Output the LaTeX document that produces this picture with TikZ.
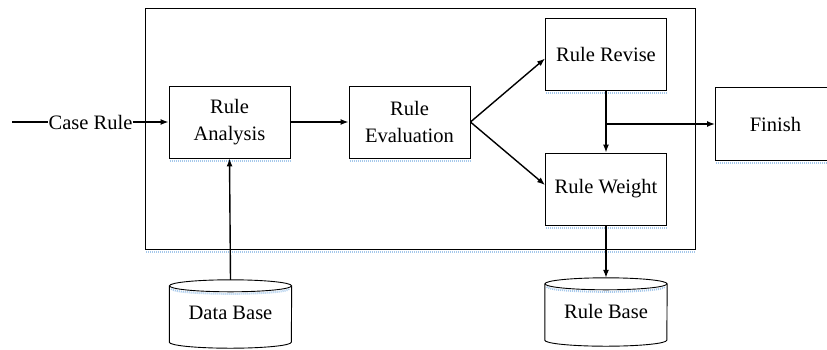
\documentclass[tikz,border=0pt]{standalone}
\usepackage{fontspec}
\setmainfont{Liberation Serif}
\usetikzlibrary{arrows.meta,calc}
\definecolor{hintblue}{RGB}{165,200,235}
\begin{document}
\begin{tikzpicture}[x=1pt,y=-1pt,
  every node/.style={font=\fontsize{20.5}{27}\selectfont, align=center, inner sep=0pt},
  procbox/.style={draw, line width=0.9pt, minimum width=121pt, minimum height=72pt},
  store/.style={minimum width=122pt, minimum height=66pt},
  flow/.style={line width=1.4pt, -{Latex[length=8pt,width=6pt]}},
  plain/.style={line width=1.4pt},
  hint/.style={draw=hintblue, line width=2pt, dash pattern=on 1pt off 1pt}]
\useasboundingbox (0,0) rectangle (827,349);
\clip (0,0) rectangle (827,349);

% outer frame
\draw[line width=0.9pt] (145,8) rectangle (695,249);
\draw[hint] (146,252) -- (695,252);

% process boxes
\node[procbox] (ana) at (229.5,122) {Rule\\Analysis};
\node[procbox] (eva) at (409.5,122) {Rule\\Evaluation};
\node[procbox] (rev) at (606,54.5) {Rule Revise};
\node[procbox] (wei) at (606,189) {Rule Weight};
\node[procbox, minimum width=140pt, minimum height=73pt, anchor=west] (fin) at (715,124) {\hspace*{-10pt}Finish\hspace*{10pt}};

\foreach \b in {ana,eva,rev,wei,fin}
  \draw[hint] ($(\b.south west)+(1,2.5)$) -- ($(\b.south east)+(0,2.5)$);

% storage cylinders
\node[store] (db) at (230.5,313) {\raisebox{-4pt}{Data Base}};
\node[store] (rb) at (606,311) {\raisebox{-4pt}{Rule Base}};
\foreach \s in {db,rb}{
  \draw[line width=0.9pt]
    ($(\s.north west)+(0,6)$) -- ($(\s.south west)+(0,-4)$)
    arc[start angle=180, end angle=360, x radius=61pt, y radius=6pt]
    -- ($(\s.north east)+(0,6)$);
  \draw[line width=0.9pt] ($(\s.north)+(0,6)$) ellipse[x radius=61pt, y radius=6pt];
  \draw[hint] ($(\s.north west)+(2,9)$) arc[start angle=180, end angle=360, x radius=59pt, y radius=5pt];
}

% input line
\node (case) at (90.5,122) {Case Rule};
\coordinate (src) at (12,122);
\draw[plain] (src) -- (case.west);
\draw[flow] (case.east) -- (ana.west);

% main flow
\draw[flow] (ana.east) -- (eva.west);
\draw[flow] (eva.east) -- ($(rev.west)+(0,4)$);
\draw[flow] (eva.east) -- ($(wei.west)+(0,-4)$);
\draw[flow] (rev.south) -- (wei.north);
\coordinate (tap) at (rev.south |- fin.west);
\draw[flow] (tap) -- (fin.west);

% storage links
\draw[flow] (db.north) -- (ana.south);
\draw[flow] (wei.south) -- (rb.north);
\end{tikzpicture}
\end{document}
